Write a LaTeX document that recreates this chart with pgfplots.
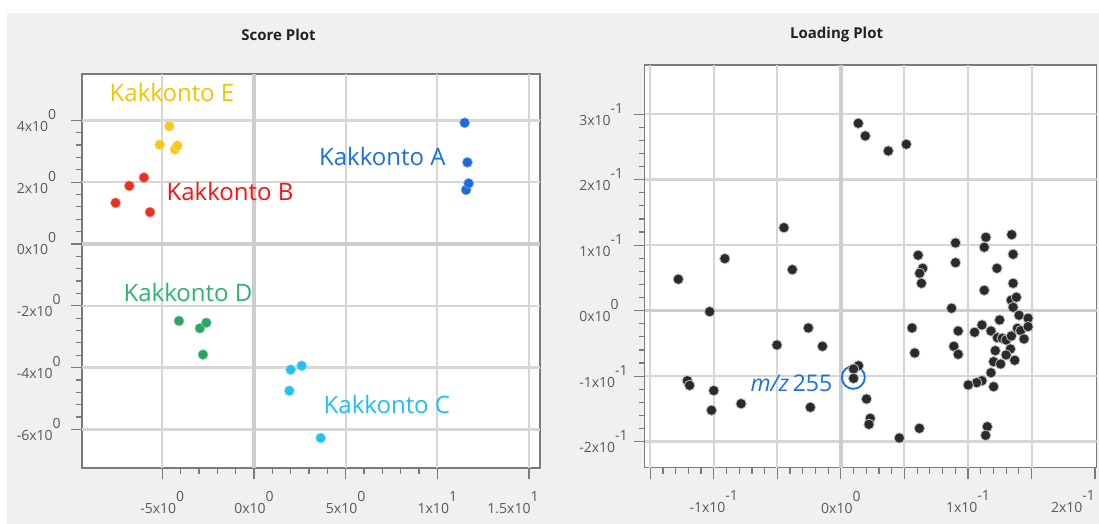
\documentclass[border=0pt]{standalone}
\usepackage{pgfplots}
\pgfplotsset{compat=1.18}
\usepackage{fontspec}
\setmainfont{Open Sans}
\definecolor{bg}{HTML}{F0F0F0}
\definecolor{gridc}{HTML}{D6D6D6}
\definecolor{zeroc}{HTML}{CDCDCD}
\definecolor{axisc}{HTML}{7A7A7A}
\definecolor{labc}{HTML}{595959}
\definecolor{titlec}{HTML}{222222}
\definecolor{cE}{HTML}{F7C815}
\definecolor{tE}{HTML}{F5C400}
\definecolor{cB}{HTML}{E8321E}
\definecolor{tB}{HTML}{FF1010}
\definecolor{cA}{HTML}{1A6AD8}
\definecolor{tA}{HTML}{1E6FDB}
\definecolor{cD}{HTML}{27A862}
\definecolor{tD}{HTML}{2DB36E}
\definecolor{cC}{HTML}{25BFF0}
\definecolor{tC}{HTML}{1EC0F0}
\definecolor{dotc}{HTML}{2A2A2A}
\definecolor{mz}{HTML}{1A6FE0}
\newcommand{\sci}[2]{#1x10\raisebox{12pt}{#2}}
\tikzset{gl/.style={draw=gridc, line width=2pt}, gh/.style={draw=gridc, line width=2.4pt}}
\pgfplotsset{
  myaxis/.style={
    scale only axis,
    axis line style={draw=axisc, line width=1.3pt},
    tick align=outside,
    xtick pos=bottom, ytick pos=left,
    tick style={draw=axisc, line width=1.2pt},
    major tick length=11pt, minor tick length=6pt,
    minor tick num=4,
    ticklabel style={font=\fontsize{14}{16}\selectfont, text=labc},
    xticklabel style={anchor=north, inner sep=0pt, yshift=-12pt},
    yticklabel style={anchor=east, inner sep=0pt, text width=54pt, align=left},
  },
  grpdot/.style={only marks, mark=*, mark size=5pt, mark options={fill=#1, draw=#1!55!white, line width=0.6pt}},
}
\begin{document}
\begin{tikzpicture}[x=1pt,y=1pt]
\fill[white] (0,0) rectangle (1099,524);
\fill[bg] (7,0) rectangle (1099,511);
\fill[white] (82,56) rectangle (540,450);
\fill[white] (644.5,56.3) rectangle (1096.7,459);
\node[font=\fontsize{15}{18}\selectfont\bfseries, text=titlec] at (278.6,489.4) {Score Plot};
\node[font=\fontsize{15}{18}\selectfont\bfseries, text=titlec] at (836.6,489.4) {Loading Plot};

\begin{axis}[myaxis,
  at={(82pt,56pt)}, anchor=south west,
  width=458pt, height=394pt,
  xmin=-9.38, xmax=15.6, ymin=-7.25, ymax=5.5,
  xtick={-5,0,5,10},
  xticklabels={\sci{-5}{0},\sci{0}{0},\sci{5}{0},\sci{1}{1}},
  extra x ticks={15},
  extra x tick labels={\sci{1.5}{1}},
  extra x tick style={xticklabel style={xshift=-16pt}},
  ytick={-6,-4,-2,0,2,4},
  yticklabels={\sci{-6}{0},\sci{-4}{0},\sci{-2}{0},\sci{0}{0},\sci{2}{0},\sci{4}{0}},
]
\draw[gl] (axis cs:-5,-7.25) -- (axis cs:-5,5.5);
\draw[gl] (axis cs:5,-7.25) -- (axis cs:5,5.5);
\draw[gl] (axis cs:10,-7.25) -- (axis cs:10,5.5);
\draw[gl] (axis cs:15,-7.25) -- (axis cs:15,5.5);
\draw[gh] (axis cs:-9.38,-6) -- (axis cs:15.6,-6);
\draw[gh] (axis cs:-9.38,-4) -- (axis cs:15.6,-4);
\draw[gh] (axis cs:-9.38,-2) -- (axis cs:15.6,-2);
\draw[gh] (axis cs:-9.38,2) -- (axis cs:15.6,2);
\draw[gh] (axis cs:-9.38,4) -- (axis cs:15.6,4);
\draw[zeroc, line width=3.5pt] (axis cs:0,-7.25) -- (axis cs:0,5.5);
\draw[zeroc, line width=3.5pt] (axis cs:-9.38,0) -- (axis cs:15.6,0);
\addplot[grpdot=cE] coordinates {(-4.62,3.81) (-5.14,3.21) (-4.31,3.06) (-4.18,3.18)};
\addplot[grpdot=cB] coordinates {(-6.00,2.15) (-6.80,1.88) (-7.55,1.33) (-5.67,1.03)};
\addplot[grpdot=cA] coordinates {(11.49,3.92) (11.64,2.64) (11.57,1.75) (11.71,1.96)};
\addplot[grpdot=cD] coordinates {(-4.09,-2.49) (-2.95,-2.73) (-2.60,-2.55) (-2.78,-3.58)};
\addplot[grpdot=cC] coordinates {(2.00,-4.07) (2.60,-3.94) (1.93,-4.75) (3.64,-6.28)};
\node[text=tE, font=\fontsize{24}{28}\selectfont] at (axis cs:-4.47,4.90) {Kakkonto E};
\node[text=tB, font=\fontsize{24}{28}\selectfont] at (axis cs:-1.31,1.69) {Kakkonto B};
\node[text=tA, font=\fontsize{24}{28}\selectfont] at (axis cs:7.0,2.82) {Kakkonto A};
\node[text=tD, font=\fontsize{24}{28}\selectfont] at (axis cs:-3.6,-1.56) {Kakkonto D};
\node[text=tC, font=\fontsize{24}{28}\selectfont] at (axis cs:7.25,-5.19) {Kakkonto C};
\end{axis}

\begin{axis}[myaxis,
  at={(644.5pt,56.3pt)}, anchor=south west,
  width=452.2pt, height=402.7pt,
  xmin=-0.1545, xmax=0.2013, ymin=-0.2397, ymax=0.375,
  xtick={-0.15,-0.1,-0.05,0,0.05,0.1,0.15},
  xticklabels={,\sci{-1}{-1},,\sci{0}{0},,\sci{1}{-1},},
  extra x ticks={0.2},
  extra x tick labels={\sci{2}{-1}},
  extra x tick style={xticklabel style={xshift=-22pt}},
  ytick={-0.2,-0.1,0,0.1,0.2,0.3},
  yticklabels={\sci{-2}{-1},\sci{-1}{-1},\sci{0}{0},\sci{1}{-1},\sci{2}{-1},\sci{3}{-1}},
  scaled ticks=false,
]
\draw[gl] (axis cs:-0.15,-0.2397) -- (axis cs:-0.15,0.375);
\draw[gl] (axis cs:-0.1,-0.2397) -- (axis cs:-0.1,0.375);
\draw[gl] (axis cs:-0.05,-0.2397) -- (axis cs:-0.05,0.375);
\draw[gl] (axis cs:0.05,-0.2397) -- (axis cs:0.05,0.375);
\draw[gl] (axis cs:0.1,-0.2397) -- (axis cs:0.1,0.375);
\draw[gl] (axis cs:0.15,-0.2397) -- (axis cs:0.15,0.375);
\draw[gh] (axis cs:-0.1545,-0.2) -- (axis cs:0.2013,-0.2);
\draw[gh] (axis cs:-0.1545,-0.1) -- (axis cs:0.2013,-0.1);
\draw[gh] (axis cs:-0.1545,0.1) -- (axis cs:0.2013,0.1);
\draw[gh] (axis cs:-0.1545,0.2) -- (axis cs:0.2013,0.2);
\draw[gh] (axis cs:-0.1545,0.3) -- (axis cs:0.2013,0.3);
\draw[zeroc, line width=3.5pt] (axis cs:0,-0.2397) -- (axis cs:0,0.375);
\draw[zeroc, line width=3.5pt] (axis cs:-0.1545,0) -- (axis cs:0.2013,0);
\addplot[only marks, mark=*, mark size=5.2pt, mark options={fill=dotc, draw=white!75!black, line width=0.8pt}] coordinates {
(-0.1279,0.048) (-0.0913,0.0794) (-0.0448,0.1267) (-0.0382,0.0626) (-0.1032,-0.0015)
(-0.1208,-0.1069) (-0.119,-0.114) (-0.100,-0.122) (-0.1018,-0.152) (-0.0785,-0.142)
(-0.0503,-0.0524) (-0.0256,-0.0264) (-0.0145,-0.0544) (-0.024,-0.1475)
(0.0137,0.286) (0.0192,0.2667) (0.0373,0.2438) (0.0515,0.254)
(0.0608,0.0846) (0.0644,0.0647) (0.062,0.0571) (0.0634,0.0418)
(0.0902,0.1034) (0.0902,0.0733) (0.1141,0.112) (0.1128,0.0968) (0.1344,0.116)
(0.1355,0.0861) (0.1228,0.0647) (0.1355,0.0418) (0.1128,0.0311) (0.1340,0.016)
(0.1381,0.0205) (0.1355,0.0052) (0.0871,0.0037) (0.1402,-0.007) (0.1473,-0.0116) (0.1249,-0.0142)
(0.056,-0.0264) (0.0581,-0.0646) (0.0923,-0.031) (0.0889,-0.0544) (0.0923,-0.0666)
(0.1052,-0.033) (0.111,-0.0218) (0.1181,-0.031) (0.1231,-0.0412) (0.127,-0.0422)
(0.13,-0.0447) (0.1342,-0.0386) (0.1389,-0.0269) (0.1415,-0.0305) (0.1473,-0.0244)
(0.1441,-0.0432) (0.1334,-0.0585) (0.1215,-0.061) (0.13,-0.0676) (0.1368,-0.0757)
(0.1202,-0.0778) (0.1257,-0.0814) (0.1181,-0.0947) (0.111,-0.1069) (0.1068,-0.1099)
(0.1002,-0.1134) (0.1202,-0.116) (0.1152,-0.1771) (0.1139,-0.1903)
(0.0618,-0.1796) (0.046,-0.1944) (0.0202,-0.1348) (0.0231,-0.1643) (0.0221,-0.1735)
(0.0139,-0.084) (0.01,-0.089) (0.01,-0.1033)
};
\draw[mz, line width=1.8pt] (axis cs:0.0098,-0.1018) circle[radius=11.5pt];
\node[text=mz, font=\fontsize{23}{27}\selectfont] at (axis cs:-0.0389,-0.1104) {\textit{m/z}\,255};
\end{axis}
\end{tikzpicture}
\end{document}
